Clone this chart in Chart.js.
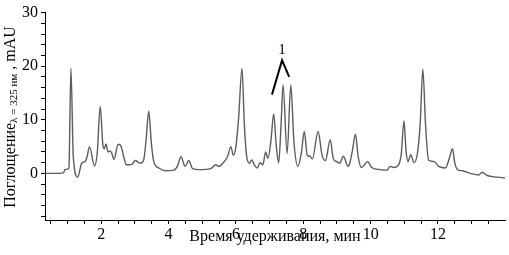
<!DOCTYPE html>
<html>
<head>
<meta charset="utf-8">
<script src="https://cdn.jsdelivr.net/npm/chart.js@4/dist/chart.umd.min.js"></script>
<style>
  body { margin: 0; background: #fff; }
  canvas { display: block; }
</style>
</head>
<body>
<canvas id="chromChart" width="509" height="255"></canvas>
<script>
// Retention time, min
const retentionTimes = [0.33, 0.6, 0.88, 0.92, 1.0, 1.04, 1.10, 1.17, 1.30, 1.42, 1.52, 1.58, 1.65, 1.80, 1.88, 1.97,
    2.05, 2.09, 2.14, 2.20, 2.27, 2.32, 2.38, 2.50, 2.55, 2.59, 2.67, 2.74, 2.84, 2.92, 3.01, 3.16, 3.26, 3.33, 3.41,
    3.49, 3.56, 3.71, 3.91, 4.16, 4.26, 4.37, 4.49, 4.60, 4.71, 4.91, 5.25, 5.40, 5.50, 5.65, 5.75, 5.85, 5.92, 6.00,
    6.08, 6.18, 6.25, 6.32, 6.40, 6.47, 6.55, 6.63, 6.72, 6.80, 6.88, 6.95, 7.04, 7.12, 7.20, 7.27, 7.34, 7.40, 7.52,
    7.63, 7.72, 7.84, 7.94, 8.03, 8.12, 8.20, 8.27, 8.44, 8.56, 8.66, 8.80, 8.89, 8.99, 9.08, 9.19, 9.33, 9.38, 9.46,
    9.55, 9.63, 9.73, 9.91, 10.03, 10.28, 10.48, 10.58, 10.68, 10.83, 10.91, 10.99, 11.05, 11.11, 11.19, 11.29, 11.39,
    11.47, 11.55, 11.63, 11.72, 11.89, 12.02, 12.22, 12.35, 12.43, 12.50, 12.60, 12.72, 12.96, 13.21, 13.31, 13.46,
    13.76, 14.04];

// Absorbance at 325 nm, mAU
const absorbance = [0, 0, 0.1, 0.7, 0.8, 1.0, 19.6, 3.1, -0.7, 1.9, 2.2, 3.1, 5.0, 1.4, 3.7, 12.5,
    5.2, 4.6, 5.5, 4.0, 4.2, 3.6, 2.6, 5.4, 5.4, 5.0, 3.1, 1.6, 1.6, 1.7, 2.4, 1.9, 2.5, 6.1, 11.6,
    5.5, 2.2, 1.0, 0.5, 0.6, 1.3, 3.1, 1.3, 2.4, 0.9, 0.7, 0.9, 1.6, 1.3, 2.2, 3.1, 5.0, 3.4, 5.0,
    10.4, 19.6, 9.1, 3.1, 1.9, 2.5, 1.6, 1.0, 2.0, 1.6, 4.0, 2.8, 6.1, 11.1, 5.0, 2.0, 9.1, 16.5, 3.7,
    16.5, 6.1, 1.3, 3.7, 7.8, 3.3, 3.2, 2.7, 7.8, 3.3, 2.4, 6.3, 2.8, 2.2, 1.9, 3.2, 1.3, 1.9, 4.3,
    7.3, 3.1, 1.1, 2.2, 1.1, 0.7, 0.6, 1.3, 1.1, 1.6, 3.7, 9.8, 4.3, 2.2, 3.5, 2.0, 3.8,
    9.1, 19.5, 9.1, 2.5, 2.2, 1.3, 1.0, 3.1, 4.6, 1.9, 0.6, 0.5, 0.0, -0.3, 0.2, -0.4,
    -0.7, -0.9];

// Axis ranges and tick steps
const xRange = [0.33, 13.99];
const yRange = [-8.7, 30];
const xLabelEvery = 2;
const yLabelEvery = 10;

// Peak marker "1" (caret pointing at the pair of peaks)
const markerLabel = '1';
const markerX = [7.07, 7.37, 7.58];
const markerY = [14.7, 21.1, 18.0];
const markerTextPos = [7.37, 22.2];

const serif = '"Liberation Serif", "Times New Roman", serif';

const points = retentionTimes.map((t, i) => ({ x: t, y: absorbance[i] }));

// Draws axis titles (with subscript) and the peak marker
const labelsPlugin = {
    id: 'chromLabels',
    afterDraw(chart) {
        const ctx = chart.ctx;
        const area = chart.chartArea;
        const xs = chart.scales.x;
        const ys = chart.scales.y;

        ctx.save();
        ctx.fillStyle = '#000';
        ctx.textBaseline = 'alphabetic';

        // x title
        ctx.font = '16px ' + serif;
        ctx.textAlign = 'center';
        ctx.fillText('Время удерживания, мин', (area.left + area.right) / 2, 241);

        // y title with subscript, rotated
        const part1 = 'Поглощение';
        const sub = 'λ = 325 нм';
        const part2 = ' , mAU';
        ctx.translate(15, 117);
        ctx.rotate(-Math.PI / 2);
        ctx.textAlign = 'left';
        ctx.font = '16px ' + serif;
        const w1 = ctx.measureText(part1).width;
        const w3 = ctx.measureText(part2).width;
        ctx.font = '11px ' + serif;
        const w2 = ctx.measureText(sub).width;
        let pos = -(w1 + w2 + w3) / 2;
        ctx.font = '16px ' + serif;
        ctx.fillText(part1, pos, 0);
        pos += w1;
        ctx.font = '11px ' + serif;
        ctx.fillText(sub, pos, 2);
        pos += w2;
        ctx.font = '16px ' + serif;
        ctx.fillText(part2, pos, 0);
        ctx.restore();

        // peak marker
        ctx.save();
        ctx.strokeStyle = '#000';
        ctx.lineWidth = 2;
        ctx.beginPath();
        markerX.forEach((mx, i) => {
            const px = xs.getPixelForValue(mx);
            const py = ys.getPixelForValue(markerY[i]);
            if (i === 0) ctx.moveTo(px, py); else ctx.lineTo(px, py);
        });
        ctx.stroke();
        ctx.fillStyle = '#000';
        ctx.font = '15px ' + serif;
        ctx.textAlign = 'center';
        ctx.textBaseline = 'alphabetic';
        ctx.fillText(markerLabel, xs.getPixelForValue(markerTextPos[0]), ys.getPixelForValue(markerTextPos[1]));
        ctx.restore();
    }
};

new Chart(document.getElementById('chromChart'), {
    type: 'line',
    data: {
        datasets: [{
            data: points,
            borderColor: '#5c5c5c',
            borderWidth: 1.4,
            pointRadius: 0,
            fill: false,
            cubicInterpolationMode: 'monotone'
        }]
    },
    options: {
        responsive: false,
        animation: false,
        devicePixelRatio: 1,
        layout: { padding: { left: 0, top: 7, right: 4, bottom: 0 } },
        plugins: {
            legend: { display: false },
            tooltip: { enabled: false }
        },
        scales: {
            x: {
                type: 'linear',
                min: xRange[0],
                max: xRange[1],
                afterFit(scale) { scale.height = 35; },
                border: { display: true, color: '#000', width: 1 },
                grid: { drawOnChartArea: false, drawTicks: true, tickLength: 4, color: '#000' },
                ticks: {
                    stepSize: 0.5,
                    includeBounds: false,
                    autoSkip: false,
                    maxRotation: 0,
                    padding: 1,
                    color: '#000',
                    font: { family: serif, size: 16 },
                    callback: v => (v > 0 && Math.abs(v % xLabelEvery) < 1e-6) ? String(v) : ''
                }
            },
            y: {
                min: yRange[0],
                max: yRange[1],
                afterFit(scale) { scale.width = 45; },
                border: { display: true, color: '#000', width: 1 },
                grid: { drawOnChartArea: false, drawTicks: true, tickLength: 4, color: '#000' },
                ticks: {
                    stepSize: 2,
                    includeBounds: false,
                    autoSkip: false,
                    padding: 3,
                    color: '#000',
                    font: { family: serif, size: 16 },
                    callback: v => (v >= 0 && Math.abs(v % yLabelEvery) < 1e-6) ? String(v) : ''
                }
            }
        }
    },
    plugins: [labelsPlugin]
});
</script>
</body>
</html>
